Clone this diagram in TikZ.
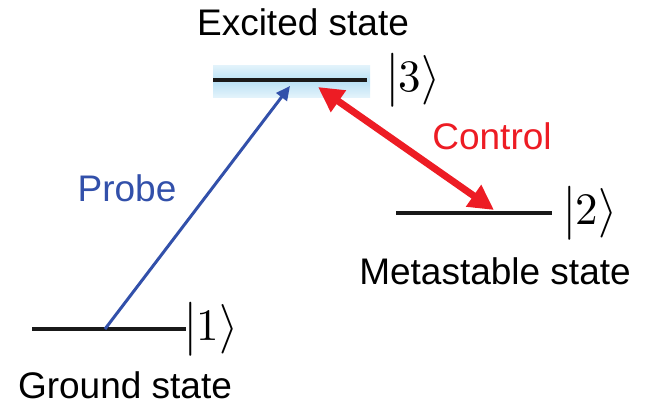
\documentclass[tikz,border=0pt]{standalone}
\usepackage{unicode-math}
\setmainfont{Liberation Sans}
\setmathfont{Latin Modern Math}
\usetikzlibrary{arrows.meta}
\definecolor{probeblue}{RGB}{50,80,170}
\definecolor{ctrlred}{RGB}{237,28,36}
\definecolor{bandblue}{RGB}{185,225,245}
\tikzset{
  level/.style={line width=3.4pt, black!90},
  lbl/.style={font=\fontsize{37}{40}\selectfont, anchor=base, inner sep=0pt},
  ket/.style={font=\fontsize{45}{50}\selectfont, anchor=west, inner sep=0pt},
  probe/.style={line width=3pt, probeblue, -{Triangle[length=14pt,width=13pt]}},
  control/.style={line width=7pt, ctrlred, {Triangle[length=25pt,width=25pt]}-{Triangle[length=25pt,width=25pt]}},
}
\begin{document}
\begin{tikzpicture}[x=1pt,y=-1pt]
\useasboundingbox (0,0) rectangle (647,405);
% band
\shade[top color=bandblue!40, bottom color=bandblue!40, middle color=bandblue] (213,65) rectangle (370,97);
% levels
\coordinate (l3a) at (213,80); \coordinate (l3b) at (367,80);
\coordinate (l2a) at (396,213); \coordinate (l2b) at (552,213);
\coordinate (l1a) at (32,329); \coordinate (l1b) at (186,329);
\draw[level] (l3a) -- (l3b);
\draw[level] (l2a) -- (l2b);
\draw[level] (l1a) -- (l1b);
% kets
\node[ket] (k3) at (386,80) {$\bigl|3\bigr\rangle$};
\node[ket] (k2) at (563,213) {$\bigl|2\bigr\rangle$};
\node[ket] (k1) at (184,329) {$\bigl|1\bigr\rangle$};
% arrows
\coordinate (p1) at (105,329); \coordinate (p3) at (290,86);
\coordinate (c3) at (318,87); \coordinate (c2) at (494,210);
\draw[probe] (p1) -- (p3);
\draw[control] (c3) -- (c2);
% labels
\node[lbl] (t3) at (303,35) {Excited state};
\node[lbl, ctrlred] (tc) at (492,149) {Control};
\node[lbl, probeblue] (tp) at (127,201) {Probe};
\node[lbl] (t2) at (495,284) {Metastable state};
\node[lbl] (t1) at (125,398) {Ground state};
\end{tikzpicture}
\end{document}
